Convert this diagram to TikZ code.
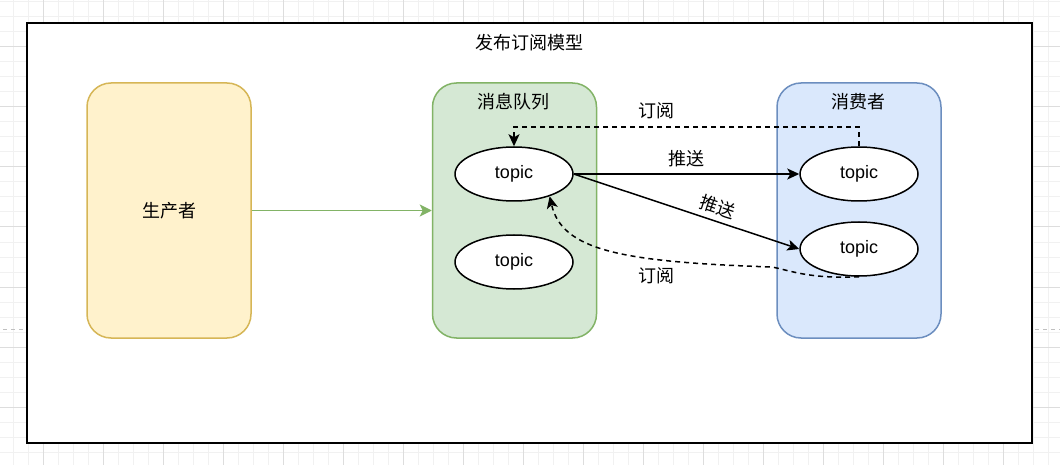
\documentclass[tikz,border=0pt]{standalone}
\usepackage{fontspec}
\setmainfont{Liberation Sans}
\newfontfamily\cjk{Noto Sans CJK SC}
\usetikzlibrary{arrows.meta,shapes.geometric}

\definecolor{gridminor}{HTML}{F1F1F1}
\definecolor{gridmajor}{HTML}{DDDDDD}
\definecolor{pagebreak}{HTML}{C0C0C0}
\definecolor{prodfill}{HTML}{FFF2CC}
\definecolor{prodline}{HTML}{D6B656}
\definecolor{queuefill}{HTML}{D5E8D4}
\definecolor{queueline}{HTML}{82B366}
\definecolor{consfill}{HTML}{DAE8FC}
\definecolor{consline}{HTML}{6C8EBF}

\tikzset{
  minorgrid/.style={draw=gridminor, line width=1pt},
  majorgrid/.style={draw=gridmajor, line width=1pt},
  panel/.style={rounded corners=24pt, line width=1.5pt, minimum width=164pt,
    minimum height=255pt, inner sep=0pt},
  topicnode/.style={ellipse, draw=black, fill=white, line width=1.5pt,
    minimum width=118pt, minimum height=54pt, inner sep=0pt,
    font=\fontsize{18}{22}\selectfont},
  cjklabel/.style={font=\cjk\fontsize{18}{22}\selectfont, inner sep=1pt},
  tip/.style={-{Stealth[length=12pt,width=11pt,inset=3pt]}},
  pushline/.style={tip, draw=black, line width=1.5pt},
  subline/.style={tip, draw=black, line width=1.5pt, dash pattern=on 5pt off 4pt},
  feedline/.style={-{Stealth[length=12pt,width=12pt,inset=3pt]}, draw=queueline, line width=1.5pt},
}

\begin{document}
\begin{tikzpicture}[x=1pt,y=-1pt]
\useasboundingbox (0,0) rectangle (1060,465);
\fill[white] (0,0) rectangle (1060,465);

% background grid
\foreach \x in {13,28,...,1060} \draw[minorgrid] (\x,0) -- (\x,465);
\foreach \y in {2,17,...,465} \draw[minorgrid] (0,\y) -- (1060,\y);
\foreach \x in {43,103,...,1060} \draw[majorgrid] (\x,0) -- (\x,465);
\foreach \y in {47,107,...,465} \draw[majorgrid] (0,\y) -- (1060,\y);
\draw[pagebreak, line width=1pt, dash pattern=on 4pt off 4pt] (3,329) -- (1060,329);

% outer frame
\node[draw=black, fill=white, line width=2pt, minimum width=1005pt,
  minimum height=420pt, inner sep=0pt] (frame) at (529.5,233) {};
\node[cjklabel] (title) at (529,43) {发布订阅模型};

% three panels
\node[panel, fill=prodfill, draw=prodline] (prod) at (169,210.5) {};
\node[cjklabel] (prodlabel) at (prod.center) {生产者};

\node[panel, fill=queuefill, draw=queueline] (queue) at (514.5,210.5) {};
\node[cjklabel] (queuelabel) at (513,102) {消息队列};

\node[panel, fill=consfill, draw=consline] (cons) at (859,210.5) {};
\node[cjklabel] (conslabel) at (858,102) {消费者};

% topics
\node[topicnode] (q1) at (514,174) {topic};
\node[topicnode] (q2) at (514,262) {topic};
\node[topicnode] (c1) at (859,174) {topic};
\node[topicnode] (c2) at (859,249) {topic};

% producer feeds the queue
\draw[feedline] (prod.east) -- (queue.west);

% push from queue to consumers
\draw[pushline] (q1.east) -- node[cjklabel, above=5pt] (push1) {推送} (c1.west);
\draw[pushline] (q1.east) -- node[cjklabel, pos=0.62, above=4pt, sloped] (push2) {推送} (c2.west);

% subscriptions
\draw[subline] (c1.north) -- ++(0,-19) -| (q1.north);
\node[cjklabel] (sub1) at (656,111) {订阅};

\coordinate (bend) at (772,267);
\draw[subline] (c2.south) .. controls (810,279) and (792,271) .. (bend)
  .. controls (620,262) and (562,250) .. (q1.-32);
\node[cjklabel] (sub2) at (656,276) {订阅};
\end{tikzpicture}
\end{document}
